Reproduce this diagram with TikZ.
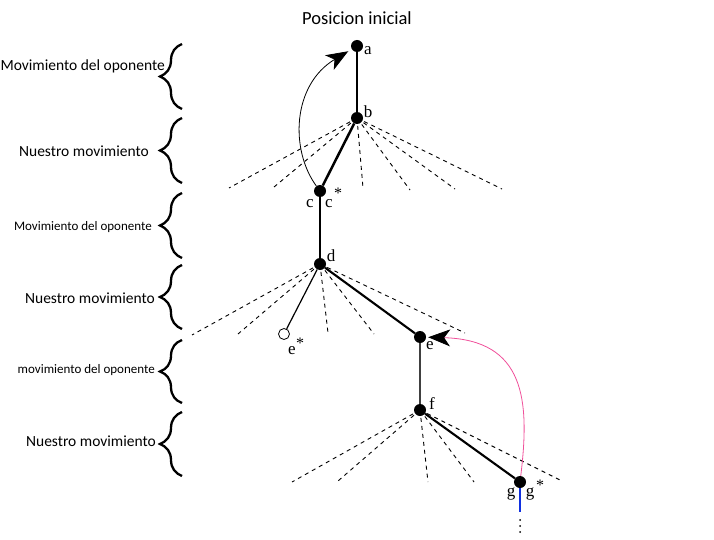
\documentclass[tikz,border=0pt]{standalone}
\usepackage{fontspec}
\setmainfont{Liberation Serif}
\newfontfamily\lblfont{Carlito}
\usetikzlibrary{arrows.meta,decorations.pathreplacing}
\definecolor{pinkc}{HTML}{F0509A}
\definecolor{bluec}{HTML}{1030E0}
\tikzset{
  dot/.style={circle,fill=black,inner sep=0pt,minimum size=12pt},
  odot/.style={circle,draw=black,fill=white,line width=0.8pt,inner sep=0pt,minimum size=11pt},
  edge/.style={line width=2.1pt,black},
  thinedge/.style={line width=1.2pt,black},
  grayedge/.style={line width=2pt,black!75},
  dsh/.style={line width=0.9pt,dash pattern=on 4pt off 4pt},
  lbl/.style={font=\fontsize{17}{19}\selectfont,inner sep=0pt},
  star/.style={font=\fontsize{16}{18}\selectfont,inner sep=0pt},
  side/.style={anchor=east,inner sep=0pt},
  br/.style={decorate,decoration={brace,amplitude=22pt,aspect=0.5},line width=2.3pt},
  bigtip/.style={-{Stealth[length=22pt,width=17pt,inset=6pt]}},
  sdot/.style={circle,fill=black,inner sep=0pt,minimum size=2pt}
}
\begin{document}
\begin{tikzpicture}[x=1pt,y=-1pt]
\useasboundingbox (0,0) rectangle (714,540);
% title
\node[inner sep=0pt] (title) at (357,18) {\lblfont\fontsize{18.5}{20}\selectfont Posicion inicial};
% tree nodes
\node[dot] (a) at (357,46) {};
\node[dot] (b) at (357,118) {};
\node[dot] (c) at (320,191) {};
\node[dot] (d) at (320,264) {};
\node[odot] (es) at (284,334) {};
\node[dot] (e) at (420,337) {};
\node[dot] (f) at (420,410) {};
\node[dot] (g) at (520,482) {};
\coordinate (gend) at (520,512);
% dashed coordinates
\foreach \n/\x/\y in {b1/229/188,b2/274/187,b3/363/188,b4/410/190,b5/455/189,b6/502/189,
  d1/192/335,d2/238/334,d3/328/333,d4/374/334,d5/465/333,
  f1/292/482,f2/338/481,f3/428/482,f4/474/482,f5/560/480}
  \coordinate (\n) at (\x,\y);
\foreach \n in {b1,b2,b3,b4,b5,b6} \draw[dsh] (b.center) -- (\n);
\foreach \n in {d1,d2,d3,d4,d5} \draw[dsh] (d.center) -- (\n);
\foreach \n in {f1,f2,f3,f4,f5} \draw[dsh] (f.center) -- (\n);
% edges
\draw[line width=2.5pt] (a) -- (b);
\draw[line width=2.5pt] (b) -- (c);
\draw[line width=2.5pt] (c) -- (d);
\draw[thinedge] (d) -- (es);
\draw[edge] (d) -- (e);
\draw[grayedge] (e) -- (f);
\draw[edge] (f) -- (g);
\draw[line width=2.5pt,bluec] (g) -- (gend);
\node[sdot] (v1) at (520,520) {};
\node[sdot] (v2) at (520,526) {};
\node[sdot] (v3) at (520,532) {};
% labels
\node[lbl] (la) at (368,51) {a};
\node[lbl] (lb) at (368,112) {b};
\node[lbl] (lc1) at (310,204) {c};
\node[lbl] (lc2) at (329,204) {c};
\node[star] (lcs) at (338,193) {*};
\node[lbl] (ld) at (331,256) {d};
\node[lbl] (les) at (292,351) {e};
\node[star] (less) at (300,343) {*};
\node[lbl] (le) at (430,346) {e};
\node[lbl] (lf) at (432,404) {f};
\node[lbl] (lg1) at (511,494) {g};
\node[lbl] (lg2) at (530,494) {g};
\node[star] (lgs) at (540,485) {*};
% curved arrows
\draw[line width=0.8pt,shorten >=4pt,bigtip] (c) .. controls (290,150) and (292,85) .. (a);
\draw[line width=0.8pt,pinkc,shorten >=2pt,-{Stealth[length=22pt,width=17pt,inset=6pt,black]}] (g) .. controls (530,400) and (525,340) .. (e);
% braces
\draw[br] (182,109) -- (182,44);
\draw[br] (182,183) -- (182,118);
\draw[br] (182,258) -- (182,193);
\draw[br] (182,329) -- (182,265);
\draw[br] (182,403) -- (182,340);
\draw[br] (182,476) -- (182,412);
% side labels
\node[side] (s1) at (165,66) {\lblfont\fontsize{15.5}{17}\selectfont Movimiento del oponente};
\node[side] (s2) at (149,151) {\lblfont\fontsize{15.5}{17}\selectfont Nuestro movimiento};
\node[side] (s3) at (152,227) {\lblfont\fontsize{13}{15}\selectfont Movimiento del oponente};
\node[side] (s4) at (155,298) {\lblfont\fontsize{15.5}{17}\selectfont Nuestro movimiento};
\node[side] (s5) at (155,370) {\lblfont\fontsize{13}{15}\selectfont movimiento del oponente};
\node[side] (s6) at (156,441) {\lblfont\fontsize{15.5}{17}\selectfont Nuestro movimiento};
\end{tikzpicture}
\end{document}
